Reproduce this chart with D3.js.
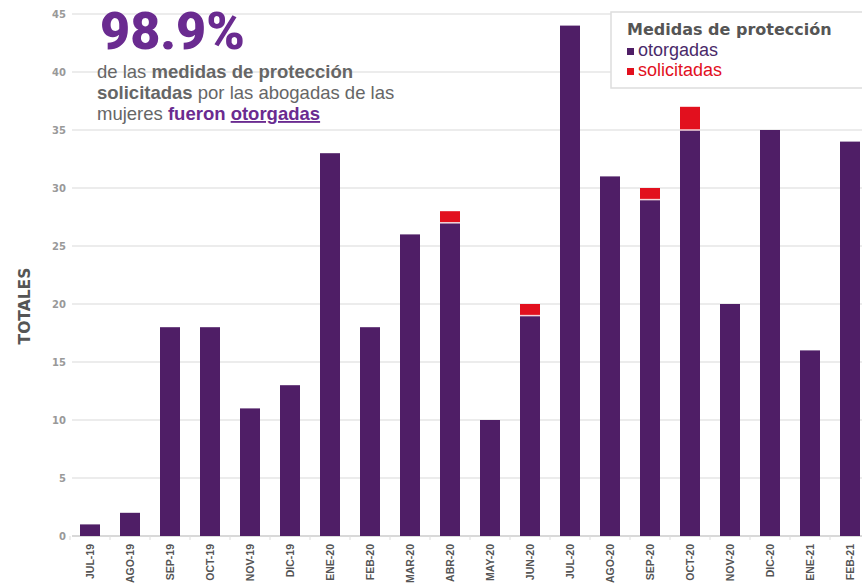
<!DOCTYPE html>
<head>
<meta charset="utf-8">
<title>Medidas de protección</title>
<style>
  body { margin: 0; background: #fff; }
  svg { display: block; }
</style>
</head>
<body>
<svg width="862" height="586" id="chart" font-family="'DejaVu Sans', sans-serif"></svg>
<script src="https://d3js.org/d3.v7.min.js"></script>
<script>

var meses = ["JUL-19","AGO-19","SEP-19","OCT-19","NOV-19","DIC-19","ENE-20","FEB-20","MAR-20","ABR-20",
             "MAY-20","JUN-20","JUL-20","AGO-20","SEP-20","OCT-20","NOV-20","DIC-20","ENE-21","FEB-21"];
var otorgadas   = [1,2,18,18,11,13,33,18,26,27,10,19,44,31,29,35,20,35,16,34];
var solicitadas = [1,2,18,18,11,13,33,18,26,28,10,20,44,31,30,37,20,35,16,34];
var yTicks = [0,5,10,15,20,25,30,35,40,45];

var purple = "#4f1e66", red = "#e2101e", gray = "#666";

var svg = d3.select("#chart");

var x = d3.scaleBand()
    .domain(meses)
    .range([70, 870])
    .paddingInner(0.5)
    .paddingOuter(0.25);

var y = d3.scaleLinear()
    .domain([0, 45])
    .range([536, 14]);

// gridlines
svg.append("g")
  .selectAll("line")
  .data(yTicks)
  .enter().append("line")
    .attr("x1", 72).attr("x2", 862)
    .attr("y1", function(d) { return y(d); })
    .attr("y2", function(d) { return y(d); })
    .attr("stroke", function(d) { return d === 0 ? "#ccc" : "#e6e6e6"; })
    .attr("stroke-width", 1.5);

// y tick labels
svg.append("g")
  .selectAll("text")
  .data(yTicks)
  .enter().append("text")
    .attr("x", 66)
    .attr("y", function(d) { return y(d); })
    .attr("dy", "0.35em")
    .attr("text-anchor", "end")
    .attr("font-size", "10px")
    .attr("font-weight", "bold")
    .attr("fill", "#999")
    .text(function(d) { return d; });

// small ticks on the x axis
svg.append("g")
  .selectAll("line")
  .data(meses)
  .enter().append("line")
    .attr("x1", function(d) { return x(d) - x.step() * 0.25; })
    .attr("x2", function(d) { return x(d) - x.step() * 0.25; })
    .attr("y1", y(0)).attr("y2", y(0) + 4)
    .attr("stroke", "#ddd");

// bars: red on top (solicitadas), purple otorgadas
svg.append("g")
  .selectAll("rect")
  .data(meses)
  .enter().append("rect")
    .attr("x", function(d) { return x(d); })
    .attr("width", x.bandwidth())
    .attr("y", function(d, i) { return y(solicitadas[i]); })
    .attr("height", function(d, i) { return y(otorgadas[i]) - y(solicitadas[i]); })
    .attr("fill", red);

svg.append("g")
  .selectAll("rect")
  .data(meses)
  .enter().append("rect")
    .attr("x", function(d) { return x(d); })
    .attr("width", x.bandwidth())
    .attr("y", function(d, i) { return y(otorgadas[i]); })
    .attr("height", function(d, i) { return y(0) - y(otorgadas[i]); })
    .attr("fill", purple);

// light seam between stacked segments
svg.append("g")
  .selectAll("line")
  .data(meses.filter(function(d, i) { return solicitadas[i] > otorgadas[i]; }))
  .enter().append("line")
    .attr("x1", function(d) { return x(d); })
    .attr("x2", function(d) { return x(d) + x.bandwidth(); })
    .attr("y1", function(d) { return y(otorgadas[meses.indexOf(d)]); })
    .attr("y2", function(d) { return y(otorgadas[meses.indexOf(d)]); })
    .attr("stroke", "#f4d6dc")
    .attr("stroke-width", 1.5);

// x labels
svg.append("g")
  .selectAll("text")
  .data(meses)
  .enter().append("text")
    .attr("transform", function(d) { return "translate(" + (x(d) + x.bandwidth() / 2) + ",544) rotate(-90)"; })
    .attr("dy", "0.35em")
    .attr("text-anchor", "end")
    .attr("font-family", "'Liberation Sans', Arial, sans-serif")
    .attr("font-size", "10.5px")
    .attr("font-weight", "bold")
    .attr("fill", "#555")
    .text(function(d) { return d; });

// y axis title
svg.append("text")
  .attr("transform", "translate(25,306) rotate(-90)")
  .attr("dy", "0.35em")
  .attr("text-anchor", "middle")
  .attr("font-size", "15.5px")
  .attr("font-weight", "bold")
  .attr("fill", "#555")
  .text("TOTALES");

// big headline
svg.append("text")
  .attr("x", 100).attr("y", 49)
  .attr("font-family", "Roboto, sans-serif")
  .attr("font-size", "52px")
  .attr("font-weight", "900")
  .attr("fill", "#6a2b90")
  .text("98.9%");

var sub = svg.append("g")
  .attr("font-family", "'Liberation Sans', Arial, sans-serif")
  .attr("font-size", "18.5px")
  .attr("fill", gray);

var l1 = sub.append("text").attr("x", 97).attr("y", 78);
l1.append("tspan").text("de las ");
l1.append("tspan").attr("font-weight", "bold").text("medidas de protección");

var l2 = sub.append("text").attr("x", 97).attr("y", 99);
l2.append("tspan").attr("font-weight", "bold").text("solicitadas");
l2.append("tspan").text(" por las abogadas de las");

var l3 = sub.append("text").attr("x", 97).attr("y", 120);
l3.append("tspan").text("mujeres ");
l3.append("tspan").attr("font-weight", "bold").attr("fill", "#6a2b90").text("fueron ");
l3.append("tspan").attr("font-weight", "bold").attr("fill", "#6a2b90")
  .attr("text-decoration", "underline").text("otorgadas");

// legend
var legend = svg.append("g").attr("transform", "translate(611,12)");
legend.append("rect")
  .attr("x", 0).attr("y", 0)
  .attr("width", 260).attr("height", 76)
  .attr("fill", "#fff")
  .attr("stroke", "#ddd")
  .attr("stroke-width", 1.5);

legend.append("text")
  .attr("x", 16).attr("y", 23)
  .attr("font-size", "16px")
  .attr("font-weight", "bold")
  .attr("fill", "#555")
  .text("Medidas de protección");

var items = [["otorgadas", purple, "#4a2a6a"], ["solicitadas", red, red]];
var li = legend.selectAll(".li")
  .data(items)
  .enter().append("g")
    .attr("class", "li")
    .attr("transform", function(d, i) { return "translate(16," + (38 + i * 20) + ")"; });
li.append("rect")
  .attr("x", 0).attr("y", -2)
  .attr("width", 7).attr("height", 7)
  .attr("fill", function(d) { return d[1]; });
li.append("text")
  .attr("x", 11).attr("y", 0)
  .attr("dy", "0.35em")
  .attr("font-family", "'Liberation Sans', Arial, sans-serif")
  .attr("font-size", "18px")
  .attr("fill", function(d) { return d[2]; })
  .text(function(d) { return d[0]; });

</script>
</body>
